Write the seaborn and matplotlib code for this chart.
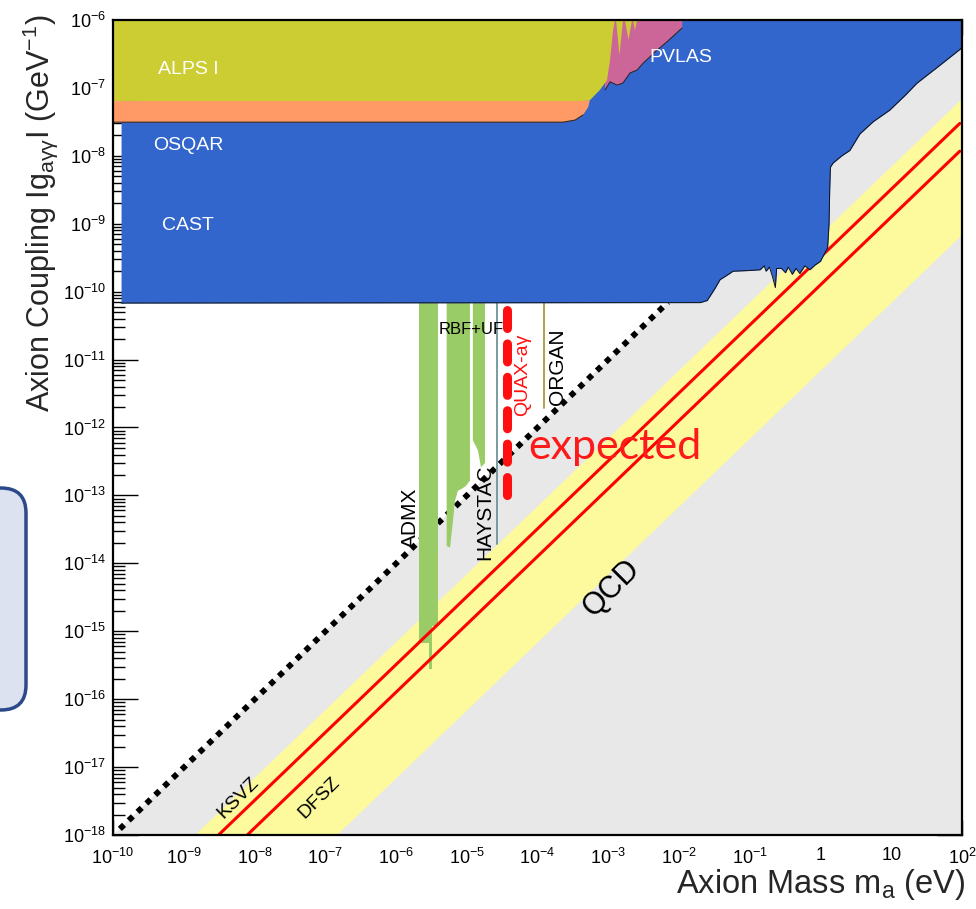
import matplotlib
matplotlib.use('Agg')
import matplotlib.pyplot as plt
from matplotlib.ticker import LogLocator, NullFormatter
from matplotlib.patches import FancyBboxPatch
import seaborn as sns

# Axion exclusion plot: mass in eV, coupling in GeV^-1

x_ticks = [1e-10, 1e-9, 1e-8, 1e-7, 1e-6, 1e-5, 1e-4, 1e-3, 1e-2, 1e-1, 1, 10, 100]
x_tick_labels = [r'$10^{-10}$', r'$10^{-9}$', r'$10^{-8}$', r'$10^{-7}$', r'$10^{-6}$',
                 r'$10^{-5}$', r'$10^{-4}$', r'$10^{-3}$', r'$10^{-2}$', r'$10^{-1}$',
                 '1', '10', r'$10^{2}$']
y_ticks = [1e-18, 1e-17, 1e-16, 1e-15, 1e-14, 1e-13, 1e-12, 1e-11, 1e-10, 1e-9, 1e-8, 1e-7, 1e-6]
y_tick_labels = [r'$10^{-18}$', r'$10^{-17}$', r'$10^{-16}$', r'$10^{-15}$', r'$10^{-14}$',
                 r'$10^{-13}$', r'$10^{-12}$', r'$10^{-11}$', r'$10^{-10}$', r'$10^{-9}$',
                 r'$10^{-8}$', r'$10^{-7}$', r'$10^{-6}$']

# CAST / helioscope exclusion, lower edge
cast_mass = [1.3e-10, 0.02, 0.025, 0.032, 0.038, 0.05, 0.058, 0.1, 0.14, 0.16, 0.17, 0.19,
             0.21, 0.23, 0.24, 0.28, 0.32, 0.35, 0.40, 0.45, 0.51, 0.60, 0.71, 0.83, 1.0,
             1.1, 1.26, 1.32, 1.35, 1.38, 1.5, 2.0, 2.6, 3.6, 5.6, 9.5, 16, 23, 50, 100]
cast_g = [6.8e-11, 6.9e-11, 7.4e-11, 1.1e-10, 1.5e-10, 1.8e-10, 2.0e-10, 2.05e-10, 2.1e-10,
          2.4e-10, 2.0e-10, 2.3e-10, 1.65e-10, 1.15e-10, 2.2e-10, 2.2e-10, 1.9e-10, 2.3e-10,
          1.8e-10, 2.2e-10, 1.85e-10, 2.4e-10, 2.1e-10, 2.45e-10, 2.8e-10, 3.4e-10, 4.4e-10,
          1.0e-9, 3.2e-9, 6.8e-9, 7.8e-9, 1.0e-8, 1.2e-8, 2.1e-8, 3.2e-8, 4.7e-8, 7.9e-8,
          1.17e-7, 2.2e-7, 3.9e-7]

# ALPS I outline
alps_mass = [1e-10, 2.55e-3, 2.39e-3, 2.24e-3, 2.17e-3, 1.93e-3, 1.72e-3, 1.62e-3, 1.44e-3,
             1.29e-3, 1.245e-3, 1.17e-3, 1.06e-3, 9.6e-4, 7.6e-4, 5.5e-4, 4.0e-4, 1e-10]
alps_g = [1e-6, 1e-6, 7.1e-7, 1e-6, 1e-6, 5.1e-7, 1e-6, 1e-6, 3.05e-7,
          1e-6, 1e-6, 7.1e-7, 2.57e-7, 1.3e-7, 9.3e-8, 6.6e-8, 6.4e-8, 6.4e-8]

# OSQAR outline
osqar_mass = [1e-10, 5.5e-4, 5.2e-4, 4.4e-4, 3.4e-4, 2.3e-4, 1e-10]
osqar_g = [6.4e-8, 6.6e-8, 5.2e-8, 4.0e-8, 3.36e-8, 3.13e-8, 3.13e-8]

# PVLAS outline
pvlas_mass = [9.0e-4, 1.12e-2, 1.1e-2, 6.8e-3, 4.9e-3, 3.1e-3, 2.55e-3, 2.03e-3, 1.61e-3,
              1.33e-3, 1.06e-3, 9.0e-4]
pvlas_g = [1e-6, 1e-6, 7.6e-7, 4.8e-7, 3.6e-7, 2.3e-7, 1.83e-7, 1.66e-7, 1.18e-7,
           1.1e-7, 1.23e-7, 9.3e-8]

# haloscopes
admx_mass = [2.13e-6, 2.13e-6, 2.93e-6, 2.93e-6, 3.23e-6, 3.23e-6, 3.96e-6, 3.96e-6]
admx_g = [6.8e-11, 6.8e-16, 6.8e-16, 2.8e-16, 2.8e-16, 1.2e-15, 1.2e-15, 6.8e-11]
rbf_mass = [5.2e-6, 5.2e-6, 5.8e-6, 6.4e-6, 6.8e-6, 7.5e-6, 8.6e-6, 9.8e-6, 1.11e-5, 1.11e-5]
rbf_g = [6.8e-11, 1.8e-14, 1.7e-14, 4.3e-14, 8.3e-14, 1.17e-13, 1.26e-13, 1.39e-13, 1.65e-13, 6.8e-11]
uf_mass = [1.22e-5, 1.22e-5, 1.44e-5, 1.59e-5, 1.81e-5, 1.81e-5]
uf_g = [6.8e-11, 6.5e-13, 4.6e-13, 2.6e-13, 3.0e-13, 6.8e-11]
haystac_mass = [2.65e-5, 2.65e-5]
haystac_g = [6.8e-11, 1.95e-14]
quax_mass = [3.67e-5, 3.67e-5]
quax_g = [5.3e-11, 8.5e-14]
organ_mass = [1.24e-4, 1.24e-4]
organ_g = [6.8e-11, 1.97e-12]

# model lines and bands
ksvz_mass = [3.1e-9, 93]
ksvz_g = [1e-18, 3.0e-8]
dfsz_mass = [7.9e-9, 93]
dfsz_g = [1e-18, 1.17e-8]
qcd_mass = [1.45e-9, 100, 100, 1.48e-7]
qcd_g = [1e-18, 6.9e-8, 6.8e-10, 1e-18]
dm_mass = [1.25e-10, 7e-3]
dm_g = [1.23e-18, 7e-11]
gray_mass = [1e-10, 100, 100]
gray_g = [1e-18, 1e-6, 1e-18]

sns.set_theme(style='ticks')
plt.rcParams['font.family'] = ['Liberation Sans', 'DejaVu Sans']
plt.rcParams['mathtext.fontset'] = 'custom'
plt.rcParams['mathtext.rm'] = 'Liberation Sans'
plt.rcParams['mathtext.it'] = 'Liberation Sans:italic'
plt.rcParams['mathtext.bf'] = 'Liberation Sans:bold'

W, H = 976, 909
fig = plt.figure(figsize=(W / 100, H / 100), dpi=100)
ax = fig.add_axes([113 / W, 1 - 835 / H, (962 - 113) / W, (835 - 20) / H])
ax.set_xscale('log')
ax.set_yscale('log')


def fxy(px, py):
    return px / W, 1 - py / H


# background regions
ax.fill(gray_mass, gray_g, color='#e8e8e8', lw=0, zorder=1)
ax.fill(qcd_mass, qcd_g, color='#fcfa9c', lw=0, zorder=2)
sns.lineplot(x=dm_mass, y=dm_g, ax=ax, color='black', lw=4.2,
             linestyle=(0, (1, 1.1)), dash_capstyle='butt', zorder=2.5)

# haloscopes
green = '#99cc66'
ax.fill(admx_mass, admx_g, color=green, lw=0, zorder=3)
ax.fill(rbf_mass, rbf_g, color=green, lw=0, zorder=3)
ax.fill(uf_mass, uf_g, color=green, lw=0, zorder=3)
ax.plot(haystac_mass, haystac_g, color='#6f939c', lw=1.3, zorder=3)
ax.plot(organ_mass, organ_g, color='#a89a3a', lw=1.3, zorder=3)
ax.plot(quax_mass, quax_g, color='#ff1010', lw=6.5, linestyle=(0, (2.0, 1.7)),
        dash_capstyle='round', zorder=4.5)

# QCD axion models
sns.lineplot(x=ksvz_mass, y=ksvz_g, ax=ax, color='#ff0000', lw=2.2, zorder=4)
sns.lineplot(x=dfsz_mass, y=dfsz_g, ax=ax, color='#ff0000', lw=2.2, zorder=4)

# helioscope / light-shining-through-wall exclusions
ax.fill_between(cast_mass, cast_g, 1e-6, color='#3366cc', lw=0, zorder=5)
ax.plot(cast_mass, cast_g, color='#111111', lw=0.7, zorder=5.1)
ax.fill(osqar_mass, osqar_g, color='#ff9966', lw=0, zorder=6)
ax.plot(osqar_mass[3:], osqar_g[3:], color='#3a2a20', lw=0.8, zorder=6.1)
ax.fill(pvlas_mass, pvlas_g, color='#cc6699', lw=0, zorder=6)
ax.plot(pvlas_mass[2:], pvlas_g[2:], color='#222222', lw=0.7, zorder=6.1)
ax.fill(alps_mass, alps_g, color='#cccc33', lw=0, zorder=7)

ax.set_xlim(1e-10, 1e2)
ax.set_ylim(1e-18, 1e-6)
ax.set_xticks(x_ticks, x_tick_labels)
ax.set_yticks(y_ticks, y_tick_labels)
ax.xaxis.set_minor_locator(LogLocator(base=10, subs=range(2, 10), numticks=100))
ax.yaxis.set_minor_locator(LogLocator(base=10, subs=range(2, 10), numticks=100))
ax.xaxis.set_minor_formatter(NullFormatter())
ax.yaxis.set_minor_formatter(NullFormatter())
ax.tick_params(axis='both', which='both', direction='in', top=True, right=True,
               color='black', width=1.0, labelsize=13, labelcolor='black', zorder=20)
ax.tick_params(axis='x', which='major', length=11, pad=9)
ax.tick_params(axis='x', which='minor', length=5)
ax.tick_params(axis='y', which='major', length=18, pad=5)
ax.tick_params(axis='y', which='minor', length=8.5)
for sp in ax.spines.values():
    sp.set_linewidth(1.6)
    sp.set_color('black')
    sp.set_zorder(20)
ax.set_xlabel('')
ax.set_ylabel('')

# region labels
for name, px, py in [('ALPS I', 188, 70), ('OSQAR', 188, 146), ('CAST', 188, 225), ('PVLAS', 681, 57)]:
    fig.text(*fxy(px, py), name, color='white', fontsize=14, ha='center', va='center')
fig.text(*fxy(471, 329), 'RBF+UF', color='black', fontsize=12, ha='center', va='center')
fig.text(*fxy(523, 375), 'QUAX-aγ', color='#ff1010', fontsize=14, rotation=90,
         ha='center', va='center')
fig.text(*fxy(558, 367), 'ORGAN', color='black', fontsize=15, rotation=90, ha='center', va='center')
fig.text(*fxy(485, 512), 'HAYSTAC', color='black', fontsize=15, rotation=90, ha='center', va='center')
fig.text(*fxy(410, 518), 'ADMX', color='black', fontsize=15, rotation=90, ha='center', va='center')
fig.text(*fxy(615, 447), 'expected', color='#ff1a1a', fontsize=31, family='Lato',
         ha='center', va='center')
fig.text(*fxy(612, 588), 'QCD', color='black', fontsize=22, rotation=45, ha='center', va='center')
fig.text(*fxy(238, 798), 'KSVZ', color='black', fontsize=14, rotation=45, ha='center', va='center')
fig.text(*fxy(319, 798), 'DFSZ', color='black', fontsize=14, rotation=45, ha='center', va='center')

# axis titles
fig.text(*fxy(965, 885), r'Axion Mass m$_{\mathrm{a}}$ (eV)', fontsize=23.5,
         ha='right', va='center')
fig.text(*fxy(40, 15), r'Axion Coupling Ig$_{\mathrm{a\gamma\gamma}}$I (GeV$^{\mathrm{-1}}$)',
         fontsize=22, rotation=90, ha='center', va='top')

# partial box from the slide on the left
box = FancyBboxPatch((-0.5, 1.99), 0.76, 2.22, boxstyle='round,pad=0,rounding_size=0.25',
                     transform=fig.dpi_scale_trans, facecolor='#dde2f0', edgecolor='#2c4a8a',
                     lw=2.5, clip_on=False)
fig.add_artist(box)

fig.savefig('out.png', dpi=100)
